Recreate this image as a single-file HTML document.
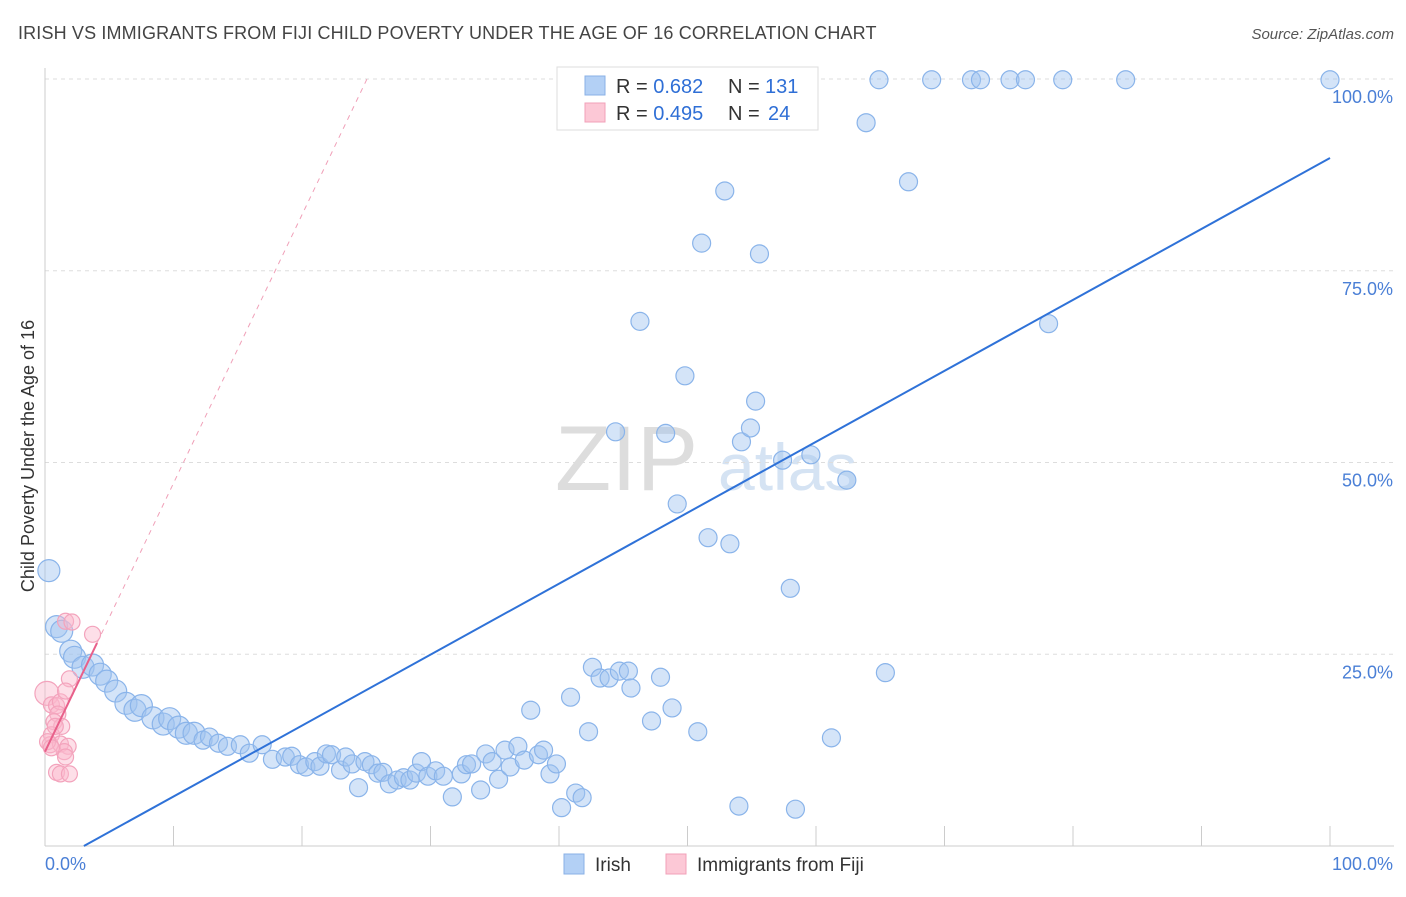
<!DOCTYPE html>
<html><head><meta charset="utf-8"><style>
body{margin:0;background:#fff;font-family:"Liberation Sans",sans-serif;}
svg text{font-family:"Liberation Sans",sans-serif;}
</style></head><body>
<svg id="chart" width="1406" height="892" xmlns="http://www.w3.org/2000/svg">
<text x="18" y="39" font-size="18" letter-spacing="0.15" fill="#444">IRISH VS IMMIGRANTS FROM FIJI CHILD POVERTY UNDER THE AGE OF 16 CORRELATION CHART</text>
<text x="1394" y="39" font-size="15" fill="#555" text-anchor="end" font-style="italic">Source: ZipAtlas.com</text>
<text x="555" y="490" font-size="92" fill="#ddd" font-family="Liberation Serif,serif">ZIP</text>
<text x="718" y="490" font-size="66" fill="#d5e3f3">atlas</text>
<g id="grid"></g>
<g id="axes"></g>
<g id="marks"></g>
<text x="34" y="456" font-size="18" fill="#333" text-anchor="middle" transform="rotate(-90 34 456)">Child Poverty Under the Age of 16</text>
<g>
<rect x="557" y="67" width="261" height="63" fill="#fff" stroke="#ddd"/>
<rect x="585" y="76" width="20" height="19" fill="#b3d0f5" stroke="#8ab0e6"/>
<rect x="585" y="103" width="20" height="19" fill="#fcc8d6" stroke="#f2a0b8"/>
<text x="616" y="93" font-size="20" fill="#333">R = <tspan fill="#2f6fd6">0.682</tspan><tspan x="728">N = </tspan><tspan x="765" fill="#2f6fd6">131</tspan></text>
<text x="616" y="120" font-size="20" fill="#333">R = <tspan fill="#2f6fd6">0.495</tspan><tspan x="728">N = </tspan><tspan x="768" fill="#2f6fd6">24</tspan></text>
</g>
<g>
<rect x="564" y="854" width="20" height="20" fill="#b3d0f5" stroke="#8ab0e6"/>
<text x="595" y="871" font-size="19" fill="#333">Irish</text>
<rect x="666" y="854" width="20" height="20" fill="#fcc8d6" stroke="#f2a0b8"/>
<text x="697" y="871" font-size="19" fill="#333">Immigrants from Fiji</text>
</g>
</svg>
<script>
const yTicks=[25,50,75,100];
const yTickLabels=["25.0%","50.0%","75.0%","100.0%"];
const xTicks=[0,10,20,30,40,50,60,70,80,90,100];
const irishX=[0.3,0.9,1.3,2.0,2.3,2.96,3.7,4.3,4.8,5.5,6.3,7.0,7.5,8.4,9.2,9.7,10.4,11.0,11.6,12.3,12.8,13.5,14.2,15.2,15.9,16.9,17.7,18.7,19.2,19.8,20.3,21.0,21.4,21.9,22.3,23.0,23.4,23.9,24.4,24.9,25.4,25.9,26.3,26.8,27.4,27.9,28.4,28.9,29.3,29.8,30.4,31.0,31.7,32.4,32.8,33.2,33.9,34.3,34.8,35.3,35.8,36.2,36.8,37.3,37.8,38.4,38.8,39.3,39.8,40.2,40.9,41.3,41.8,42.3,42.6,43.2,43.9,44.7,45.4,45.6,47.2,47.9,48.8,50.8,54.0,58.4,61.2,65.4,58.0,53.3,51.6,49.2,44.4,48.3,54.2,54.9,55.3,57.4,59.6,62.4,49.8,46.3,78.1,51.1,55.6,52.9,67.2,63.9,46.9,56.7,59.0,64.9,69.0,72.1,72.8,75.1,76.3,79.2,84.1,100];
const irishY=[35.9,28.6,28,25.4,24.6,23.3,23.6,22.4,21.5,20.2,18.6,17.7,18.3,16.7,15.9,16.6,15.5,14.7,14.7,13.8,14.2,13.4,13.0,13.2,12.1,13.2,11.3,11.6,11.7,10.6,10.3,11.0,10.4,12.0,11.9,9.9,11.6,10.7,7.6,11.0,10.6,9.5,9.6,8.1,8.6,8.9,8.6,9.5,11.0,9.1,9.8,9.1,6.4,9.4,10.6,10.7,7.3,12.0,11.0,8.7,12.5,10.3,13.0,11.2,17.7,11.9,12.5,9.4,10.7,5.0,19.4,6.9,6.3,14.9,23.3,21.9,21.9,22.8,22.8,20.6,16.3,22.0,18.0,14.9,5.2,4.8,14.1,22.6,33.6,39.4,40.2,44.6,54.0,53.8,52.7,54.5,58.0,50.3,51.0,47.7,61.3,68.4,68.1,78.6,77.2,85.4,86.6,94.3,98.2,99.9,99.9,99.9,99.9,99.9,99.9,99.9,99.9,99.9,99.9,99.9];
const fijiX=[0.15,0.5,0.9,1.2,1.6,2.1,3.7,1.9,1.6,1.0,0.7,1.3,0.5,0.4,1.2,1.8,1.5,1.6,0.9,1.2,1.9,0.2,0.5,0.8];
const fijiY=[19.9,18.4,18.3,18.8,29.3,29.2,27.6,21.8,20.2,17.2,16.2,15.6,14.5,13.2,13.3,13.0,12.3,11.6,9.6,9.4,9.4,13.6,12.8,15.6];
const irishFit=[-2.8,0.925];
const fijiFit=[12.3,3.5];
const X=v=>45+v*12.85, Y=v=>846-v*7.67;
const NS="http://www.w3.org/2000/svg";
function mk(t,a,p){const e=document.createElementNS(NS,t);for(const k in a)e.setAttribute(k,a[k]);p.appendChild(e);return e;}
const grid=document.getElementById('grid'),axes=document.getElementById('axes'),marks=document.getElementById('marks');
yTicks.forEach((t,i)=>{
 const l=mk('line',{x1:45,x2:1394,y1:Y(t),y2:Y(t),stroke:'#ddd','stroke-dasharray':'4,4'},grid);
 
 
 const tx=mk('text',{x:1393,y:Y(t)+24,'font-size':18,fill:'#4a7fd6','text-anchor':'end'},axes);
 tx.textContent=yTickLabels[i];
 
 
});
mk('line',{x1:45,x2:45,y1:68,y2:846,stroke:'#ccc'},axes);
mk('line',{x1:45,x2:1394,y1:846,y2:846,stroke:'#ccc'},axes);
xTicks.forEach(t=>{const l=mk('line',{x1:X(t),x2:X(t),y1:826,y2:846,stroke:'#ccc'},axes);
 
 });
let a=mk('text',{x:45,y:870,'font-size':18,fill:'#4a7fd6'},axes);a.textContent='0.0%';


a=mk('text',{x:1393,y:870,'font-size':18,fill:'#4a7fd6','text-anchor':'end'},axes);a.textContent='100.0%';


irishX.forEach((x,i)=>{const r=x<12?11:9;
 const c=mk('circle',{cx:X(x),cy:Y(irishY[i]),r:r,fill:'rgba(160,195,240,0.45)',stroke:'#8ab4ea','stroke-width':1.2},marks);
 
 });
fijiX.forEach((x,i)=>{const r=i==0?12:8;
 const c=mk('circle',{cx:X(x),cy:Y(fijiY[i]),r:r,fill:'rgba(250,185,205,0.45)',stroke:'#f3a3bc','stroke-width':1.2},marks);
 
 });
const x0=-irishFit[0]/irishFit[1];
let ln=mk('line',{x1:X(x0),y1:Y(0),x2:X(100),y2:Y(irishFit[0]+irishFit[1]*100),stroke:'#2f72d8','stroke-width':2},marks);


const xe=(100-fijiFit[0])/fijiFit[1];
ln=mk('line',{x1:X(4.05),y1:Y(fijiFit[0]+fijiFit[1]*4.05),x2:X(xe),y2:Y(100),stroke:'#f0a0b8','stroke-width':1,'stroke-dasharray':'5,5'},marks);


ln=mk('line',{x1:X(0),y1:Y(fijiFit[0]),x2:X(4.05),y2:Y(fijiFit[0]+fijiFit[1]*4.05),stroke:'#e8608a','stroke-width':2},marks);


</script>
</body></html>
